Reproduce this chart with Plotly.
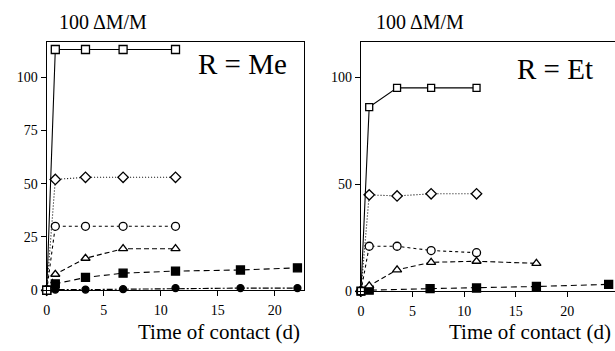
import plotly.graph_objects as go

# ---------------- data ----------------
# Left panel: R = Me
me_t_short = [0, 0.75, 3.4, 6.7, 11.3]
me_t_long = [0, 0.75, 3.4, 6.7, 11.3, 17, 22]
me_open_sq = [0, 113, 113, 113, 113]
me_open_dia = [0, 52, 53, 53, 53]
me_open_circ = [0, 30, 30, 30, 30]
me_open_tri = [0, 7.5, 15, 19.5, 19.5]
me_fill_sq = [0, 3, 6, 8, 9, 9.5, 10.5]
me_fill_circ = [0, 0.3, 0.3, 0.5, 1, 1, 1]

# Right panel: R = Et
et_t_short = [0, 0.8, 3.5, 6.8, 11.2]
et_t_tri = [0, 0.8, 3.5, 6.8, 11.2, 17]
et_t_sq = [0, 0.8, 6.7, 11.2, 17, 24]
et_open_sq = [0, 86, 95, 95, 95]
et_open_dia = [0, 45, 44.5, 45.5, 45.5]
et_open_circ = [0, 21, 21, 19, 18]
et_open_tri = [0, 2.5, 10, 13.5, 14, 13]
et_fill_sq = [0, 0.5, 1.2, 1.5, 2.2, 3.2]

x_ticks = [0, 5, 10, 15, 20]
y_ticks_me = [0, 25, 50, 75, 100]
y_ticks_et = [0, 50, 100]

# the right panel runs past the right edge of the 615 px window, as in the reference
W, H = 700, 351
FONT = "Liberation Serif, Times New Roman, serif"

fig = go.Figure()

def add(x, y, sym, fill, dash, size, xa, ya):
    fig.add_trace(go.Scatter(
        x=x, y=y, mode="lines+markers", xaxis=xa, yaxis=ya,
        line=dict(color="black", width=1.1, dash=dash),
        marker=dict(symbol=sym, size=size, color=fill,
                    line=dict(color="black", width=1.3)),
        cliponaxis=False, showlegend=False, hoverinfo="skip"))

# left panel
add(me_t_long, me_fill_circ, "circle", "black", "6px,2px,2px,2px", 7, "x", "y")
add(me_t_long, me_fill_sq, "square", "black", "6px,4px", 8, "x", "y")
add(me_t_short, me_open_tri, "triangle-up", "white", "5px,3px", 8, "x", "y")
add(me_t_short, me_open_circ, "circle", "white", "3px,3px", 8, "x", "y")
add(me_t_short, me_open_dia, "diamond", "white", "1px,2px", 8, "x", "y")
add(me_t_short, me_open_sq, "square", "white", "solid", 8, "x", "y")

# right panel
add(et_t_sq, et_fill_sq, "square", "black", "6px,4px", 8, "x2", "y2")
add(et_t_tri, et_open_tri, "triangle-up", "white", "5px,3px", 8, "x2", "y2")
add(et_t_short, et_open_circ, "circle", "white", "3px,3px", 8, "x2", "y2")
add(et_t_short, et_open_dia, "diamond", "white", "1px,2px", 8, "x2", "y2")
add(et_t_short, et_open_sq, "square", "white", "solid", 7, "x2", "y2")

tickfont = dict(family=FONT, size=14, color="black")

def xax(domain, rng, mirror):
    return dict(domain=domain, range=rng, tickvals=x_ticks, ticks="outside",
                ticklen=5, tickwidth=1, tickcolor="black", showline=True,
                linecolor="black", linewidth=1.3, mirror=mirror, showgrid=False,
                zeroline=False, tickfont=tickfont, ticklabelstandoff=2)

def yax(domain, rng, ticks, anchor, mirror):
    return dict(domain=domain, range=rng, tickvals=ticks, ticks="outside",
                ticklen=5, tickwidth=1, tickcolor="black", showline=True,
                linecolor="black", linewidth=1.3, mirror=mirror, showgrid=False,
                zeroline=False, tickfont=tickfont, anchor=anchor)

fig.update_layout(
    width=W, height=H, margin=dict(l=0, r=0, t=0, b=0), autosize=False,
    paper_bgcolor="white", plot_bgcolor="white",
    xaxis=dict(xax([43 / W, 302 / W], [0, 22.6], True), anchor="y"),
    yaxis=yax([1 - 297 / H, 1 - 43 / H], [0, 116.5], y_ticks_me, "x", True),
    xaxis2=dict(xax([359 / W, 1.0], [0, (W - 359) / 10.38], True), anchor="y2"),
    yaxis2=yax([1 - 298 / H, 1 - 43 / H], [0, 116.4], y_ticks_et, "x2", False),
)

def txt(x, y, s, size, xanchor="center"):
    fig.add_annotation(x=x / W, y=1 - y / H, xref="paper", yref="paper",
                       text=s, showarrow=False, xanchor=xanchor, yanchor="middle",
                       font=dict(family=FONT, size=size, color="black"))

txt(100, 23, "100 ΔM/M", 20)
txt(418, 23, "100 ΔM/M", 20)
txt(240, 66, "R = Me", 29)
txt(554, 71, "R = Et", 29)
txt(300, 340, "Time of contact (d)", 21, "right")
txt(613, 340, "Time of contact (d)", 21, "right")

fig.write_html("out.html", config={"displayModeBar": False, "responsive": False},
               post_script="document.body.style.margin='0px';document.body.style.overflow='hidden';")
